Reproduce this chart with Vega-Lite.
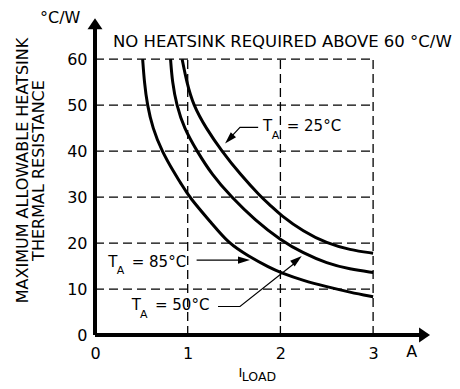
{
  "$schema": "https://vega.github.io/schema/vega-lite/v6.json",
  "width": 343,
  "height": 331,
  "autosize": "none",
  "padding": {"left": 95, "top": 4, "right": 22, "bottom": 54},
  "background": "white",
  "config": {
    "view": {"stroke": null},
    "font": "DejaVu Sans",
    "text": {"font": "DejaVu Sans", "color": "black"}
  },
  "datasets": {
    "curves": [
      {"ta": "85", "x": 0.514, "y": 60}, {"ta": "85", "x": 0.532, "y": 55}, {"ta": "85", "x": 0.564, "y": 50},
      {"ta": "85", "x": 0.622, "y": 45}, {"ta": "85", "x": 0.72, "y": 40}, {"ta": "85", "x": 0.863, "y": 35},
      {"ta": "85", "x": 0.917, "y": 33.3}, {"ta": "85", "x": 1.015, "y": 30}, {"ta": "85", "x": 1.276, "y": 23.9},
      {"ta": "85", "x": 1.438, "y": 20}, {"ta": "85", "x": 1.65, "y": 17.2}, {"ta": "85", "x": 1.887, "y": 14.6},
      {"ta": "85", "x": 2.0, "y": 13.6}, {"ta": "85", "x": 2.25, "y": 11.8}, {"ta": "85", "x": 2.5, "y": 10.5},
      {"ta": "85", "x": 2.75, "y": 9.3}, {"ta": "85", "x": 3.0, "y": 8.3},
      {"ta": "50", "x": 0.815, "y": 60}, {"ta": "50", "x": 0.834, "y": 55}, {"ta": "50", "x": 0.88, "y": 50},
      {"ta": "50", "x": 0.96, "y": 45}, {"ta": "50", "x": 1.1, "y": 40}, {"ta": "50", "x": 1.257, "y": 35},
      {"ta": "50", "x": 1.47, "y": 30}, {"ta": "50", "x": 1.726, "y": 25}, {"ta": "50", "x": 2.0, "y": 20.65},
      {"ta": "50", "x": 2.247, "y": 17.8}, {"ta": "50", "x": 2.5, "y": 15.6}, {"ta": "50", "x": 2.75, "y": 14.3},
      {"ta": "50", "x": 3.0, "y": 13.6},
      {"ta": "25", "x": 0.94, "y": 60}, {"ta": "25", "x": 0.989, "y": 55}, {"ta": "25", "x": 1.06, "y": 50},
      {"ta": "25", "x": 1.197, "y": 45}, {"ta": "25", "x": 1.367, "y": 40}, {"ta": "25", "x": 1.564, "y": 35},
      {"ta": "25", "x": 1.79, "y": 30}, {"ta": "25", "x": 1.887, "y": 28.3}, {"ta": "25", "x": 2.0, "y": 26.1},
      {"ta": "25", "x": 2.247, "y": 22.5}, {"ta": "25", "x": 2.5, "y": 19.95}, {"ta": "25", "x": 2.75, "y": 18.5},
      {"ta": "25", "x": 3.0, "y": 17.8}
    ],
    "hgrid": [{"y": 10}, {"y": 20}, {"y": 30}, {"y": 40}, {"y": 50}, {"y": 60}],
    "vgrid": [{"x": 1}, {"x": 2}, {"x": 3}],
    "axislines": [
      {"a": "x", "i": 0, "x": 0, "y": 0}, {"a": "x", "i": 1, "x": 3.56, "y": 0},
      {"a": "y", "i": 0, "x": 0, "y": 0}, {"a": "y", "i": 1, "x": 0, "y": 67.6}
    ],
    "leaders": [
      {"a": "25", "i": 0, "x": 1.76, "y": 45.15}, {"a": "25", "i": 1, "x": 1.564, "y": 45.15}, {"a": "25", "i": 2, "x": 1.44, "y": 42.5},
      {"a": "85", "i": 0, "x": 1.096, "y": 16.3}, {"a": "85", "i": 1, "x": 1.62, "y": 16.3},
      {"a": "50", "i": 0, "x": 1.327, "y": 6.2}, {"a": "50", "i": 1, "x": 1.564, "y": 6.2}, {"a": "50", "i": 2, "x": 2.19, "y": 16.2}
    ],
    "labels": [
      {"x": 1.812, "y": 45.43, "t": "T"}, {"x": 2.068, "y": 45.43, "t": "= 25°C"},
      {"x": 0.143, "y": 15.93, "t": "T"}, {"x": 0.396, "y": 15.93, "t": "= 85°C"},
      {"x": 0.396, "y": 6.52, "t": "T"}, {"x": 0.647, "y": 6.52, "t": "= 50°C"}
    ],
    "subs": [
      {"x": 1.906, "y": 43.26, "t": "A"},
      {"x": 0.234, "y": 13.9, "t": "A"},
      {"x": 0.485, "y": 4.41, "t": "A"}
    ]
  },
  "layer": [
    {
      "data": {"name": "hgrid"},
      "mark": {"type": "rule", "color": "black", "strokeWidth": 1.3, "strokeDash": [9, 5]},
      "encoding": {
        "y": {"field": "y", "type": "quantitative", "scale": {"domain": [0, 72], "nice": false}},
        "x": {"datum": 0, "type": "quantitative"},
        "x2": {"datum": 3}
      }
    },
    {
      "data": {"name": "vgrid"},
      "mark": {"type": "rule", "color": "black", "strokeWidth": 1.3, "strokeDash": [9, 5]},
      "encoding": {
        "x": {"field": "x", "type": "quantitative"},
        "y": {"datum": 0, "type": "quantitative"},
        "y2": {"datum": 60}
      }
    },
    {
      "data": {"name": "curves"},
      "mark": {"type": "line", "color": "black", "strokeWidth": 3, "interpolate": "basis"},
      "encoding": {
        "x": {
          "field": "x", "type": "quantitative",
          "scale": {"domain": [0, 3.7], "nice": false, "zero": false},
          "axis": {
            "values": [0, 1, 2, 3], "format": "d", "domain": false, "ticks": false, "tickSize": 0, "grid": false,
            "title": null, "labelFont": "DejaVu Sans", "labelFontSize": 16, "labelColor": "black",
            "labelPadding": 10, "labelFlush": false
          }
        },
        "y": {
          "field": "y", "type": "quantitative",
          "scale": {"domain": [0, 72], "nice": false},
          "axis": {
            "values": [0, 10, 20, 30, 40, 50, 60], "format": "d", "domain": false, "ticks": false, "tickSize": 0, "grid": false,
            "labelFont": "DejaVu Sans", "labelFontSize": 16, "labelColor": "black", "labelPadding": 8, "labelFlush": false,
            "title": ["MAXIMUM ALLOWABLE HEATSINK", "THERMAL RESISTANCE"],
            "titleFont": "DejaVu Sans", "titleFontSize": 16, "titleFontWeight": "normal", "titleColor": "black",
            "titleX": -73, "titleY": 166, "titleAngle": 270, "titleAlign": "center", "titleBaseline": "middle",
            "titleLineHeight": 16
          }
        },
        "detail": {"field": "ta"}
      }
    },
    {
      "data": {"name": "axislines"},
      "mark": {"type": "line", "color": "black", "strokeWidth": 4, "strokeCap": "butt"},
      "encoding": {
        "x": {"field": "x", "type": "quantitative"},
        "y": {"field": "y", "type": "quantitative"},
        "detail": {"field": "a"},
        "order": {"field": "i"}
      }
    },
    {
      "data": {"values": [{"x": 3.555, "y": 0}]},
      "mark": {"type": "point", "filled": true, "color": "black", "opacity": 1, "shape": "M0,-1L1.36,1L-1.36,1Z", "size": 121, "angle": 90},
      "encoding": {"x": {"field": "x", "type": "quantitative"}, "y": {"field": "y", "type": "quantitative"}}
    },
    {
      "data": {"values": [{"x": 0, "y": 67.7}]},
      "mark": {"type": "point", "filled": true, "color": "black", "opacity": 1, "shape": "M0,-1L1.36,1L-1.36,1Z", "size": 121, "angle": 0},
      "encoding": {"x": {"field": "x", "type": "quantitative"}, "y": {"field": "y", "type": "quantitative"}}
    },
    {
      "data": {"name": "leaders"},
      "mark": {"type": "line", "color": "black", "strokeWidth": 1.2},
      "encoding": {
        "x": {"field": "x", "type": "quantitative"},
        "y": {"field": "y", "type": "quantitative"},
        "detail": {"field": "a"},
        "order": {"field": "i"}
      }
    },
    {
      "data": {"values": [{"x": 1.448, "y": 42.6}]},
      "mark": {"type": "point", "filled": true, "color": "black", "opacity": 1, "shape": "M0,-1L0.6,1L-0.6,1Z", "size": 144, "angle": 224},
      "encoding": {"x": {"field": "x", "type": "quantitative"}, "y": {"field": "y", "type": "quantitative"}}
    },
    {
      "data": {"values": [{"x": 1.607, "y": 16.3}]},
      "mark": {"type": "point", "filled": true, "color": "black", "opacity": 1, "shape": "M0,-1L0.6,1L-0.6,1Z", "size": 144, "angle": 90},
      "encoding": {"x": {"field": "x", "type": "quantitative"}, "y": {"field": "y", "type": "quantitative"}}
    },
    {
      "data": {"values": [{"x": 2.18, "y": 16.35}]},
      "mark": {"type": "point", "filled": true, "color": "black", "opacity": 1, "shape": "M0,-1L0.6,1L-0.6,1Z", "size": 144, "angle": 51},
      "encoding": {"x": {"field": "x", "type": "quantitative"}, "y": {"field": "y", "type": "quantitative"}}
    },
    {
      "data": {"name": "labels"},
      "mark": {"type": "text", "align": "left", "baseline": "middle", "fontSize": 15, "font": "DejaVu Sans", "color": "black"},
      "encoding": {
        "x": {"field": "x", "type": "quantitative"},
        "y": {"field": "y", "type": "quantitative"},
        "text": {"field": "t"}
      }
    },
    {
      "data": {"name": "subs"},
      "mark": {"type": "text", "align": "left", "baseline": "middle", "fontSize": 11, "font": "DejaVu Sans", "color": "black"},
      "encoding": {
        "x": {"field": "x", "type": "quantitative"},
        "y": {"field": "y", "type": "quantitative"},
        "text": {"field": "t"}
      }
    },
    {
      "data": {"values": [
        {"x": 0.194, "y": 63.76, "t": "NO HEATSINK REQUIRED ABOVE 60 °C/W"}
      ]},
      "mark": {"type": "text", "align": "left", "baseline": "middle", "fontSize": 16.5, "font": "DejaVu Sans", "color": "black"},
      "encoding": {
        "x": {"field": "x", "type": "quantitative"},
        "y": {"field": "y", "type": "quantitative"},
        "text": {"field": "t"}
      }
    },
    {
      "data": {"values": [
        {"x": -0.593, "y": 68.85, "t": "°C/W"}
      ]},
      "mark": {"type": "text", "align": "left", "baseline": "middle", "fontSize": 16, "font": "DejaVu Sans", "color": "black"},
      "encoding": {
        "x": {"field": "x", "type": "quantitative"},
        "y": {"field": "y", "type": "quantitative"},
        "text": {"field": "t"}
      }
    },
    {
      "data": {"values": [
        {"x": 3.416, "y": -3.8, "t": "A"}
      ]},
      "mark": {"type": "text", "align": "center", "baseline": "middle", "fontSize": 16, "font": "DejaVu Sans", "color": "black"},
      "encoding": {
        "x": {"field": "x", "type": "quantitative"},
        "y": {"field": "y", "type": "quantitative"},
        "text": {"field": "t"}
      }
    },
    {
      "data": {"values": [
        {"x": 1.548, "y": -8.26, "t": "I"}
      ]},
      "mark": {"type": "text", "align": "left", "baseline": "middle", "fontSize": 13, "font": "DejaVu Sans", "color": "black"},
      "encoding": {
        "x": {"field": "x", "type": "quantitative"},
        "y": {"field": "y", "type": "quantitative"},
        "text": {"field": "t"}
      }
    },
    {
      "data": {"values": [
        {"x": 1.583, "y": -9.13, "t": "LOAD"}
      ]},
      "mark": {"type": "text", "align": "left", "baseline": "middle", "fontSize": 12.5, "font": "DejaVu Sans", "color": "black"},
      "encoding": {
        "x": {"field": "x", "type": "quantitative"},
        "y": {"field": "y", "type": "quantitative"},
        "text": {"field": "t"}
      }
    }
  ]
}
